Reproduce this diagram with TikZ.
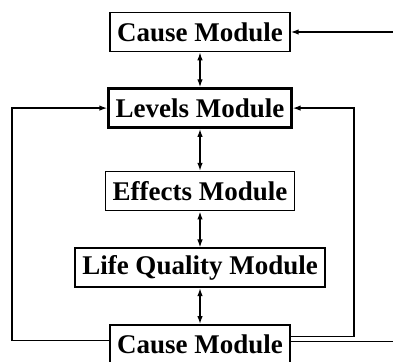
\documentclass[tikz,border=0pt]{standalone}
\usepackage{fontspec}
\setmainfont{Liberation Serif}
\usetikzlibrary{arrows.meta,positioning}

\begin{document}
\begin{tikzpicture}[
  x=1pt, y=1pt,
  font=\fontsize{27}{30}\selectfont\bfseries,
  n/.style={draw, line width=1.6pt, inner xsep=7pt, minimum height=39pt},
  arr/.style={-{Latex[length=8pt,width=5.5pt]}, line width=1.4pt},
  dbl/.style={{Latex[length=8pt,width=5.5pt]}-{Latex[length=8pt,width=5.5pt]}, line width=1.4pt}
]
\useasboundingbox (0,0) rectangle (393,361);
\node[n] (cause) at (200,329) {Cause Module};
\node[n, line width=2.6pt, below=35pt of cause] (lev) {Levels Module};
\node[n, below=42pt of lev] (eff) {Effects Module};
\node[n, below=36pt of eff] (life) {Life Quality Module};
\node[n, below=36pt of life] (cause2) {Cause Module};
\coordinate (lx) at (12,0);
\coordinate (rx) at (354,0);
\coordinate (edge) at (393,0);
\draw[dbl] (cause) -- (lev);
\draw[dbl] (lev) -- (eff);
\draw[dbl] (eff) -- (life);
\draw[dbl] (life) -- (cause2);
% feedback loops
\draw[arr] ([yshift=4pt]cause2.west) -- ([yshift=4pt]cause2.west -| lx) |- (lev.west);
\draw[arr] ([yshift=8pt]cause2.east) -- ([yshift=8pt]cause2.east -| rx) |- (lev.east);
\draw[line width=1.4pt] ([yshift=3pt]cause2.east) -- ([yshift=3pt]cause2.east -| edge);
\draw[arr] (edge |- cause.east) -- (cause.east);
\end{tikzpicture}
\end{document}
